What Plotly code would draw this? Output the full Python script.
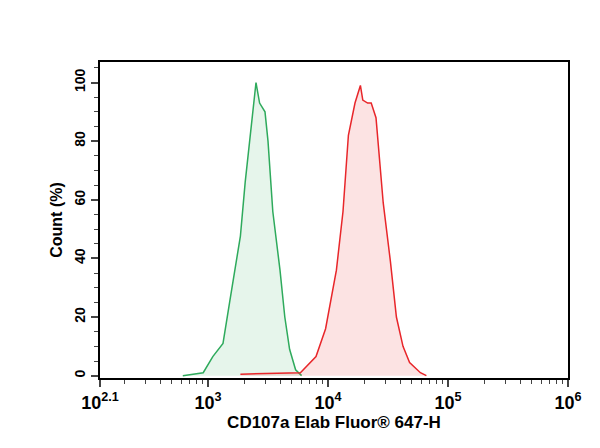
from plotly import graph_objs as go

green_log = [2.79, 2.96, 3.04, 3.125, 3.18, 3.27, 3.31, 3.36, 3.40, 3.43, 3.475, 3.50,
             3.54, 3.60, 3.64, 3.68, 3.73, 3.78]
green_pct = [0, 1, 6.5, 11, 25, 47.6, 66, 84, 100, 93, 90, 80, 56, 36, 20, 9, 2, 0]

red_log = [3.27, 3.77, 3.90, 3.98, 4.07, 4.125, 4.17, 4.225, 4.27, 4.29, 4.33, 4.36,
           4.40, 4.46, 4.52, 4.57, 4.625, 4.68, 4.77, 4.82]
red_pct = [0.5, 1, 6.5, 16, 36, 56, 82, 93, 99, 94, 93, 93, 88, 59, 39, 20, 10, 4.5, 1, 0]

tick_vals = [2.1, 3, 4, 5, 6]
tick_text = ['<b>10<sup>2.1</sup></b>', '<b>10<sup>3</sup></b>', '<b>10<sup>4</sup></b>',
             '<b>10<sup>5</sup></b>', '<b>10<sup>6</sup></b>']
y_ticks = [0, 20, 40, 60, 80, 100]


def curve(logs, pct, line, fill):
    return go.Scatter(x=[10 ** v for v in logs], y=pct, mode='lines',
                      line=dict(color=line, width=1.5), fill='tozeroy', fillcolor=fill)


fig = go.Figure(data=[
    curve(green_log, green_pct, '#2eaa5c', 'rgba(46,170,92,0.12)'),
    curve(red_log, red_pct, '#e8262a', 'rgba(232,38,42,0.13)'),
])
# page body adds 8px offset, so margins compensate
fig.update_layout(
    width=600, height=448, showlegend=False,
    plot_bgcolor='white', paper_bgcolor='white',
    margin=dict(l=92, r=40, t=54, b=78, autoexpand=False),
    font=dict(family='Liberation Sans', color='black'),
)
fig.update_xaxes(type='log', range=[2.1, 6], tickvals=[10 ** v for v in tick_vals],
                 ticktext=tick_text, ticks='outside', ticklen=7, tickwidth=2, automargin=False,
                 minor=dict(ticks='outside', ticklen=4, tickwidth=1,
                            tickvals=[m * 10 ** d for d in range(2, 6) for m in range(2, 10)]),
                 showline=True, linecolor='black', linewidth=2, mirror=True, showgrid=False,
                 tickfont=dict(size=18),
                 title=dict(text='<b>CD107a Elab Fluor® 647-H</b>', font=dict(size=17), standoff=4))
fig.update_yaxes(range=[-0.8, 107], tickvals=y_ticks, ticktext=[f'<b>{v}</b>' for v in y_ticks],
                 ticks='outside', ticklen=7, tickwidth=2, tickangle=-90, automargin=False,
                 minor=dict(ticks='outside', ticklen=4, tickwidth=1, dtick=5),
                 showline=True, linecolor='black', linewidth=2, mirror=True, showgrid=False,
                 zeroline=False, tickfont=dict(size=14),
                 title=dict(text='<b>Count (%)</b>', font=dict(size=16), standoff=6))
fig.write_html('out.html')
